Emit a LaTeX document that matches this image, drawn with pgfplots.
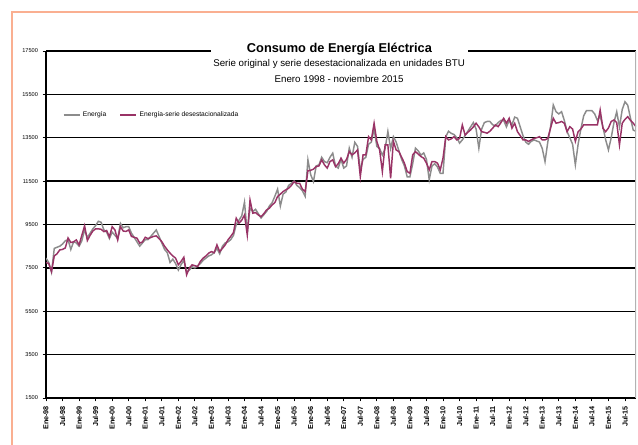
\documentclass[border=0pt]{standalone}
\usepackage{pgfplots}
\pgfplotsset{compat=1.18}
\usepackage{pgfplotstable}
\usepackage{fontspec}
\setmainfont{Liberation Sans}
\definecolor{serie}{RGB}{153,51,102}
\definecolor{orig}{RGB}{140,140,140}
\definecolor{marco}{RGB}{250,175,145}

% e = Energia (serie original), s = serie desestacionalizada; una fila por mes, ene-1998 a nov-2015
\pgfplotstableread[row sep=\\]{
e s \\
7950 7750 \\ 7750 7700 \\ 7300 7330 \\ 8400 8050 \\ 8450 8150 \\ 8500 8330 \\ 8600 8350 \\ 8750 8420 \\ 8800 8880 \\ 8350 8670 \\ 8700 8700 \\ 8650 8790 \\
8500 8560 \\ 8750 9000 \\ 9250 9440 \\ 8900 8760 \\ 9100 9000 \\ 9300 9200 \\ 9450 9300 \\ 9650 9300 \\ 9600 9280 \\ 9250 9170 \\ 9150 9220 \\ 8850 8930 \\
9150 9400 \\ 9000 9250 \\ 8850 8790 \\ 9550 9400 \\ 9350 9200 \\ 9400 9180 \\ 9400 9250 \\ 9100 8950 \\ 8900 8910 \\ 8700 8870 \\ 8500 8640 \\ 8650 8700 \\
8800 8910 \\ 8800 8850 \\ 8950 8900 \\ 9100 8950 \\ 9250 8975 \\ 8950 8850 \\ 8650 8710 \\ 8350 8500 \\ 8200 8330 \\ 7750 8180 \\ 7900 8050 \\ 7700 7950 \\
7400 7640 \\ 7650 7800 \\ 7850 7990 \\ 7300 7180 \\ 7400 7500 \\ 7550 7640 \\ 7500 7600 \\ 7600 7560 \\ 7700 7800 \\ 7850 7950 \\ 7950 8050 \\ 8050 8180 \\
8100 8250 \\ 8200 8200 \\ 8400 8560 \\ 8150 8250 \\ 8500 8400 \\ 8650 8560 \\ 8700 8790 \\ 8800 8950 \\ 9000 9130 \\ 9500 9790 \\ 9700 9560 \\ 9900 9700 \\
10530 9940 \\ 9100 9020 \\ 10250 10630 \\ 10100 10020 \\ 10200 10050 \\ 10000 9940 \\ 9800 9860 \\ 9950 10000 \\ 10100 10170 \\ 10350 10250 \\ 10500 10400 \\ 10800 10510 \\
11130 10790 \\ 10350 10900 \\ 10900 11020 \\ 11000 11100 \\ 11300 11170 \\ 11400 11300 \\ 11500 11480 \\ 11300 11400 \\ 11200 11400 \\ 11050 11130 \\ 10800 11020 \\ 12480 11980 \\
11800 12000 \\ 11480 12050 \\ 12200 12170 \\ 12250 12200 \\ 12600 12480 \\ 12400 12250 \\ 12350 12100 \\ 12600 12400 \\ 12790 12480 \\ 12200 12170 \\ 12100 12300 \\ 12500 12560 \\
12100 12330 \\ 12200 12500 \\ 13020 12860 \\ 12600 12710 \\ 13290 12800 \\ 13100 12940 \\ 12000 11710 \\ 12500 12710 \\ 12600 12710 \\ 13200 13550 \\ 13300 13400 \\ 13900 14170 \\
13100 13330 \\ 13000 12940 \\ 12700 11940 \\ 13000 13170 \\ 13790 13170 \\ 13000 11630 \\ 13550 13330 \\ 13300 12940 \\ 12900 12860 \\ 12500 12600 \\ 12200 12330 \\ 11700 11940 \\
11700 11860 \\ 12300 12710 \\ 13020 12860 \\ 12900 12750 \\ 12700 12630 \\ 12800 12560 \\ 12500 12330 \\ 11560 12020 \\ 12200 12400 \\ 12300 12400 \\ 12150 12330 \\ 11860 12020 \\
11860 12560 \\ 13550 13550 \\ 13800 13400 \\ 13700 13450 \\ 13650 13550 \\ 13500 13400 \\ 13250 13470 \\ 13400 14090 \\ 13600 13630 \\ 13800 13750 \\ 14000 13860 \\ 14200 14000 \\
13900 14170 \\ 13020 14000 \\ 13900 13780 \\ 14200 13750 \\ 14250 13710 \\ 14250 13800 \\ 14100 13940 \\ 14050 14090 \\ 14200 14010 \\ 14300 14200 \\ 14300 14400 \\ 14000 14170 \\
14300 14400 \\ 14100 13940 \\ 14450 14170 \\ 14400 13780 \\ 14000 13600 \\ 13600 13400 \\ 13300 13400 \\ 13200 13330 \\ 13330 13400 \\ 13400 13470 \\ 13350 13500 \\ 13300 13550 \\
13000 13400 \\ 12400 13400 \\ 13300 13470 \\ 14000 13940 \\ 15010 14400 \\ 14700 14170 \\ 14600 14200 \\ 14700 14250 \\ 14300 14170 \\ 13780 13780 \\ 13500 14010 \\ 13200 13900 \\
12250 13330 \\ 13200 13780 \\ 13900 13900 \\ 14500 14090 \\ 14750 14090 \\ 14750 14090 \\ 14750 14090 \\ 14600 14090 \\ 14300 14090 \\ 14500 14780 \\ 14000 13940 \\ 13400 13780 \\
12940 13950 \\ 13500 14250 \\ 14200 14320 \\ 14700 14200 \\ 14000 13170 \\ 14800 14170 \\ 15160 14350 \\ 15000 14470 \\ 14400 14300 \\ 13850 14170 \\ 13800 14010 \\
}\datos

\begin{document}
\begin{tikzpicture}
\useasboundingbox (0,0) rectangle (478.5pt,333.75pt);
\draw[marco, line width=1.6pt] (9pt,-5pt) -- (9pt,325pt) -- (490pt,325pt);
\begin{axis}[
    at={(34.5pt,35.25pt)}, anchor=south west,
    scale only axis, width=442.5pt, height=260.25pt,
    xmin=0, xmax=214, ymin=1500, ymax=17500,
    axis x line*=bottom, axis y line*=left,
    axis line style={-, black, line width=0.9pt},
    ytick={1500,3500,...,17500},
    scaled y ticks=false,
    ymajorgrids, grid style={black, line width=1pt},
    xtick={0,6,...,210},
    xticklabels={Ene-98,Jul-98,Ene-99,Jul-99,Ene-00,Jul-00,Ene-01,Jul-01,Ene-02,Jul-02,Ene-03,Jul-03,Ene-04,Jul-04,Ene-05,Jul-05,Ene-06,Jul-06,Ene-07,Jul-07,Ene-08,Jul-08,Ene-09,Jul-09,Ene-10,Jul-10,Ene-11,Jul-11,Ene-12,Jul-12,Ene-13,Jul-13,Ene-14,Jul-14,Ene-15,Jul-15},
    x tick label style={rotate=90, anchor=east, font=\fontsize{5.4}{6}\selectfont\bfseries},
    y tick label style={font=\fontsize{4.2}{5}\selectfont},
    /pgf/number format/assume math mode=true,
    /pgf/number format/set thousands separator={},
    tick align=outside, major tick length=2.5pt,
    tick style={black, line width=0.6pt},
    legend style={at={(0.028,0.8156)}, anchor=west, draw=none, fill=none,
        legend columns=2, font=\fontsize{5}{6}\selectfont, inner sep=0pt,
        /tikz/every even column/.append style={column sep=8pt}},
    legend cell align=left,
    legend image code/.code={\draw[#1] (0pt,0pt) -- (12pt,0pt);},
]
\addplot[orig, line width=1.1pt] table[x expr=\coordindex, y=e]{\datos};
\addlegendentry{Energía}
\addplot[serie, line width=1.1pt] table[x expr=\coordindex, y=s]{\datos};
\addlegendentry{Energía-serie desestacionalizada}
\draw[gray!60, line width=0.8pt] (rel axis cs:1,0) -- (rel axis cs:1,1);
\end{axis}
\fill[white] (158.25pt,269.25pt) rectangle (351pt,305.25pt);
\node[font=\fontsize{9.6}{11}\selectfont\bfseries] at (254.6pt,296.5pt) {Consumo de Energía Eléctrica};
\node[font=\fontsize{7.3}{8}\selectfont] at (254.3pt,285.6pt) {Serie original y serie desestacionalizada en unidades BTU};
\node[font=\fontsize{7.3}{8}\selectfont] at (254.3pt,274.6pt) {Enero 1998 - noviembre 2015};
\end{tikzpicture}
\end{document}
